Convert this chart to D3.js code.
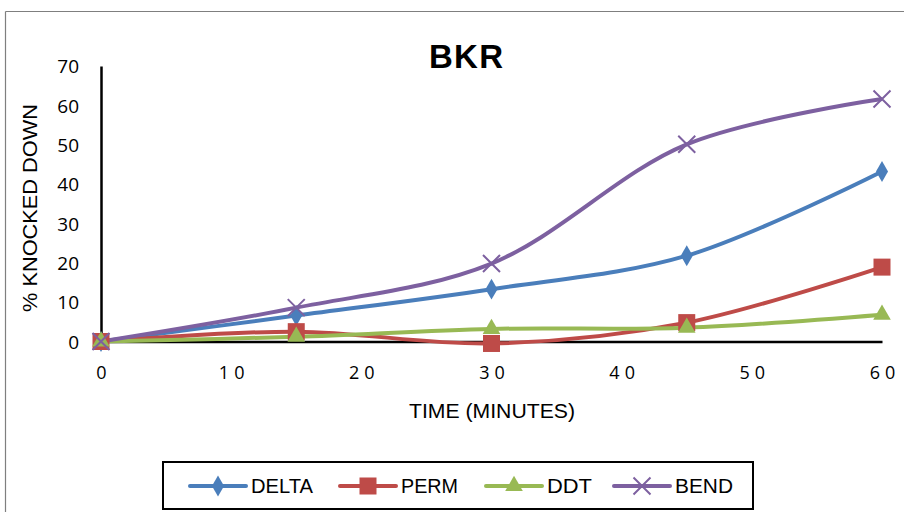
<!DOCTYPE html>
<html>
<head>
<meta charset="utf-8">
<script src="https://cdn.jsdelivr.net/npm/d3@7"></script>
<style>
  html, body { margin: 0; padding: 0; background: #fff; }
  svg { display: block; }
  text { font-family: "Liberation Sans Narrow", "Liberation Sans", "Open Sans", sans-serif; fill: #000; }
</style>
</head>
<body>
<svg id="chart" width="904" height="512"></svg>
<script>
// Knock-down over time, per insecticide
const times = [0, 15, 30, 45, 60];
const seriesNames = ["DELTA", "PERM", "DDT", "BEND"];
const delta = [0, 6.6, 13.3, 21.8, 43.2];
const perm = [0, 2.5, -0.5, 4.8, 18.9];
const ddt = [0, 1.2, 3.2, 3.5, 6.8];
const bend = [0, 8.6, 19.8, 50.1, 61.6];
const xTicks = [0, 10, 20, 30, 40, 50, 60];
const yTicks = [0, 10, 20, 30, 40, 50, 60, 70];

const colors = ["#4a7ebb", "#be4b48", "#98b954", "#7d60a0"];
const markers = ["diamond", "square", "triangle", "cross"];
const values = [delta, perm, ddt, bend];

const svg = d3.select("#chart");

// outer frame (top and left edges)
svg.append("line").attr("x1", 5.5).attr("x2", 904).attr("y1", 11.5).attr("y2", 11.5)
  .attr("stroke", "#7f7f7f").attr("stroke-width", 1.2);
svg.append("line").attr("x1", 5.5).attr("x2", 5.5).attr("y1", 11.5).attr("y2", 512)
  .attr("stroke", "#7f7f7f").attr("stroke-width", 1.2);

const x = d3.scaleLinear().domain([0, 60]).range([101, 882]);
const y = d3.scaleLinear().domain([0, 70]).range([341.5, 66]);

// title
svg.append("text").attr("x", 466).attr("y", 68).attr("text-anchor", "middle")
  .style("font-family", "'Liberation Sans', Arial, sans-serif")
  .style("font-weight", "bold").style("font-size", "33px")
  .attr("textLength", 74).attr("lengthAdjust", "spacing").text("BKR");

// axes
const yAxis = svg.append("g").attr("transform", `translate(${x(0)},0)`)
  .call(d3.axisLeft(y).tickValues(yTicks).tickSize(0).tickPadding(22));
yAxis.select(".domain").attr("stroke", "#000").attr("stroke-width", 2.5);
yAxis.selectAll("text").style("font-size", "19px")
  .style("font-family", "'Open Sans', sans-serif").attr("dy", "0.35em");

const xAxis = svg.append("g").attr("transform", `translate(0,${y(0)})`)
  .call(d3.axisBottom(x).tickValues(xTicks).tickSize(0).tickPadding(25));
xAxis.select(".domain").attr("stroke", "#000").attr("stroke-width", 2.5);
xAxis.selectAll("text").style("font-size", "18px")
  .style("font-family", "'Open Sans', sans-serif")
  .style("letter-spacing", "5px").attr("dx", "2.5px");

// axis titles
svg.append("text").attr("transform", "translate(37,208) rotate(-90)")
  .attr("text-anchor", "middle").style("font-size", "20px")
  .attr("textLength", 208).attr("lengthAdjust", "spacingAndGlyphs")
  .text("%  KNOCKED DOWN");
svg.append("text").attr("x", 492).attr("y", 418).attr("text-anchor", "middle")
  .style("font-size", "20px")
  .attr("textLength", 166).attr("lengthAdjust", "spacingAndGlyphs")
  .text("TIME (MINUTES)");

// lines
const line = d3.line()
  .x((d, i) => x(times[i]))
  .y(d => y(d))
  .curve(d3.curveCatmullRom.alpha(0.5));

function drawMarker(g, type, cx, cy, color, s) {
  if (type === "diamond") {
    g.append("path").attr("d", d3.symbol(d3.symbolDiamond, s * 9)())
      .attr("transform", `translate(${cx},${cy})`).attr("fill", color);
  } else if (type === "square") {
    g.append("rect").attr("x", cx - s / 2).attr("y", cy - s / 2)
      .attr("width", s).attr("height", s).attr("fill", color);
  } else if (type === "triangle") {
    g.append("path").attr("d", d3.symbol(d3.symbolTriangle, s * 9)())
      .attr("transform", `translate(${cx},${cy})`).attr("fill", color);
  } else {
    const h = s / 2;
    g.append("path").attr("d", `M${cx - h},${cy - h}L${cx + h},${cy + h}M${cx - h},${cy + h}L${cx + h},${cy - h}`)
      .attr("stroke", color).attr("stroke-width", 2).attr("fill", "none");
  }
}

const markerSize = [14, 17, 15, 17];

values.forEach((vals, k) => {
  svg.append("path").datum(vals).attr("d", line)
    .attr("fill", "none").attr("stroke", colors[k]).attr("stroke-width", 4)
    .attr("stroke-linejoin", "round");
});
values.forEach((vals, k) => {
  const g = svg.append("g");
  vals.forEach((v, i) => drawMarker(g, markers[k], x(times[i]), y(v), colors[k], markerSize[k]));
});

// legend
const legend = svg.append("g");
legend.append("rect").attr("x", 163).attr("y", 462).attr("width", 590).attr("height", 47)
  .attr("fill", "#fff").attr("stroke", "#000").attr("stroke-width", 2);
const legendX = [190, 340, 486, 614];
const textW = [62, 57, 45, 58];
const legendY = 486;
seriesNames.forEach((name, k) => {
  const lx = legendX[k];
  legend.append("line").attr("x1", lx).attr("x2", lx + 56)
    .attr("y1", legendY).attr("y2", legendY)
    .attr("stroke", colors[k]).attr("stroke-width", 4).attr("stroke-linecap", "round");
  drawMarker(legend, markers[k], lx + 28, legendY, colors[k], markerSize[k]);
  legend.append("text").attr("x", lx + 61).attr("y", legendY).attr("dy", "0.35em")
    .style("font-size", "20px")
    .attr("textLength", textW[k]).attr("lengthAdjust", "spacingAndGlyphs")
    .text(name);
});
</script>
</body>
</html>
